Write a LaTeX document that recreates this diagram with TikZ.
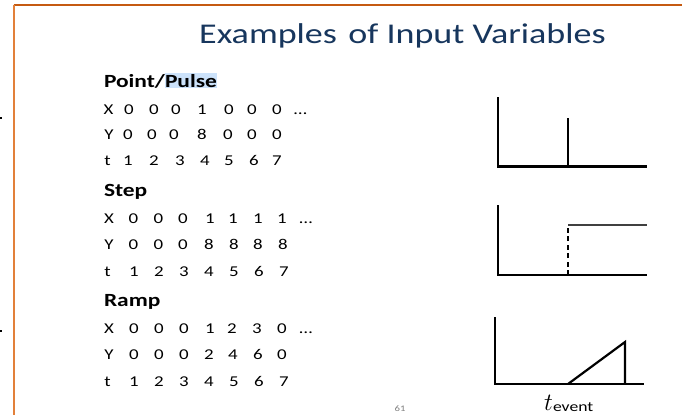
\documentclass[tikz,border=0pt]{standalone}
\usepackage{fontspec}
\setmainfont[FakeStretch=1.26]{Carlito}
\usepackage{graphicx}
\definecolor{titleblue}{RGB}{23,54,93}
\definecolor{orangetop}{RGB}{197,90,17}
\definecolor{orangeleft}{RGB}{226,128,58}
\definecolor{hlblue}{RGB}{204,226,250}
\begin{document}
\begin{tikzpicture}[x=1pt,y=-1pt,
  txt/.style={inner sep=0pt, outer sep=0pt, anchor=base, font=\fontsize{15}{16}\selectfont},
  hdr/.style={inner sep=0pt, outer sep=0pt, anchor=base west, font=\fontsize{18.6}{20}\selectfont\bfseries},
  axisline/.style={line width=2.8pt, line join=miter},
  sigline/.style={line width=2.2pt},
]
\useasboundingbox (0,0) rectangle (682,415);
\fill[white] (0,0) rectangle (682,415);
% slide border
\coordinate (btl) at (13.5,5);
\coordinate (btr) at (682,5);
\coordinate (bbl) at (13.5,415);
\draw[orangetop, line width=2pt] (btl) -- (btr);
\draw[orangeleft, line width=2pt] (btl) -- (bbl);
\fill[black] (0,117) rectangle (2,119);
\fill[black] (0,330) rectangle (2,332);
% title
\node[anchor=base west, inner sep=0pt, font=\fontsize{28.6}{30}\selectfont, text=titleblue] (title) at (199,43) {Examples\hspace{0.4em}of Input Variables};
% headers
\node[hdr] (h1a) at (104,87) {Point/};
\node[hdr, anchor=base west, fill=hlblue, inner ysep=0.8pt] (h1b) at (h1a.base east) {Pulse};
\node[hdr] (h2) at (104,196) {Step};
\node[hdr] (h3) at (104,306) {Ramp};
% pulse rows
\foreach \xx/\tk [count=\i] in {108.5/X,129/0,154/0,176/0,202/1,229/0,252/0,277/0,300.5/…}
  \node[txt] (pX\i) at (\xx,114) {\tk};
\foreach \xx/\tk [count=\i] in {109/Y,128/0,152/0,174/0,202/8,228/0,252/0,277/0}
  \node[txt] (pY\i) at (\xx,139) {\tk};
\foreach \xx/\tk [count=\i] in {107.5/t,128/1,154/2,180/3,205/4,229/5,254/6,277/7}
  \node[txt] (pt\i) at (\xx,165) {\tk};
% step rows
\foreach \xx/\tk [count=\i] in {109/X,133.5/0,158.5/0,183/0,210/1,233/1,258/1,282/1,306/…}
  \node[txt] (sX\i) at (\xx,223) {\tk};
\foreach \xx/\tk [count=\i] in {109/Y,133.5/0,158.5/0,183/0,209/8,234/8,258/8,283/8}
  \node[txt] (sY\i) at (\xx,249) {\tk};
\foreach \xx/\tk [count=\i] in {107.5/t,134/1,159/2,184/3,209/4,234/5,259/6,284/7}
  \node[txt] (st\i) at (\xx,276) {\tk};
% ramp rows
\foreach \xx/\tk [count=\i] in {109/X,134/0,159/0,184/0,210/1,232/2,257/3,282/0,306/…}
  \node[txt] (rX\i) at (\xx,333) {\tk};
\foreach \xx/\tk [count=\i] in {109/Y,134/0,159/0,184/0,209/2,233/4,258/6,282/0}
  \node[txt] (rY\i) at (\xx,359) {\tk};
\foreach \xx/\tk [count=\i] in {107.5/t,134/1,159/2,184/3,209/4,234/5,259/6,284/7}
  \node[txt] (rt\i) at (\xx,386) {\tk};
% chart 1: pulse
\coordinate (c1y) at (498,97);
\coordinate (c1o) at (498,166.5);
\coordinate (c1x) at (647,166.5);
\coordinate (c1p) at (568,166.5);
\coordinate (c1q) at (568,118);
\draw[axisline] (c1y) -- (c1o) -- (c1x);
\draw[sigline] (c1p) -- (c1q);
% chart 2: step
\coordinate (c2y) at (498,205);
\coordinate (c2o) at (498,275);
\coordinate (c2x) at (647,275);
\coordinate (c2p) at (568,275);
\coordinate (c2q) at (568,225);
\coordinate (c2r) at (647,225);
\draw[axisline] (c2y) -- (c2o) -- (c2x);
\draw[line width=2.3pt, dash pattern=on 5pt off 3.5pt] (c2p) -- (c2q);
\draw[line width=1.6pt, black!75] (c2q) -- (c2r);
% chart 3: ramp
\coordinate (c3y) at (495,317);
\coordinate (c3o) at (495,384);
\coordinate (c3x) at (644,384);
\coordinate (c3p) at (568,384);
\coordinate (c3q) at (625,342);
\coordinate (c3r) at (625,384);
\draw[axisline] (c3y) -- (c3o) -- (c3x);
\draw[sigline, line join=miter] (c3p) -- (c3q) -- (c3r);
% t_event
\node[anchor=base west, inner sep=0pt] (tev) at (544,410) {\fontsize{23}{24}\selectfont$t$\raisebox{-1pt}{\fontsize{14}{15}\selectfont event}};
% page number
\node[anchor=base, inner sep=0pt, text=black!50, font=\fontsize{8.5}{9}\selectfont] (pg) at (400,411) {61};
\end{tikzpicture}
\end{document}
